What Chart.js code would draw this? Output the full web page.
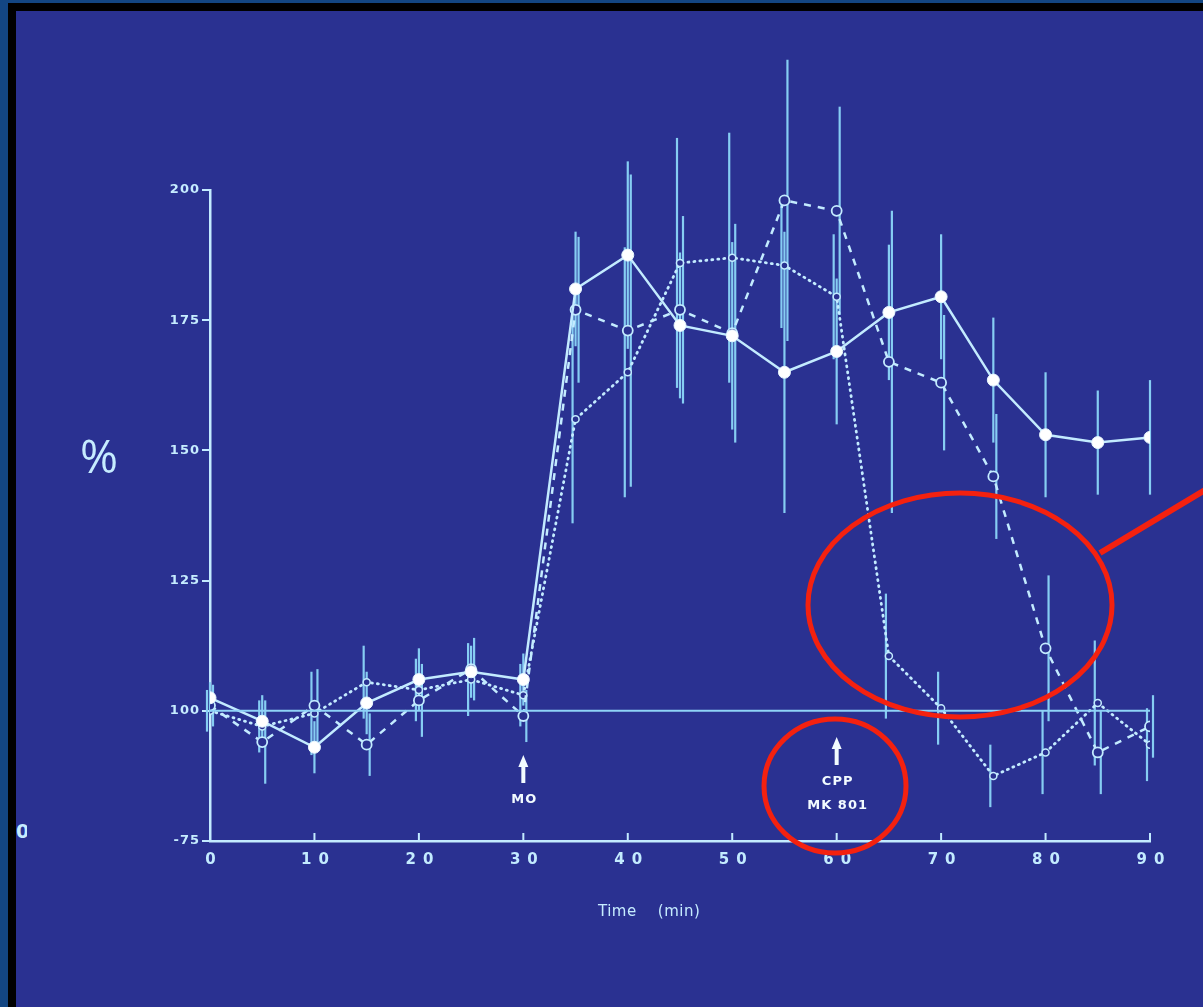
<!DOCTYPE html>
<html>
<head>
<meta charset="utf-8">
<script src="https://cdn.jsdelivr.net/npm/chart.js@4.4.1/dist/chart.umd.min.js"></script>
<style>
  html, body { margin: 0; padding: 0; width: 1203px; height: 1007px; overflow: hidden; background: #134683; }
  #frame { position: absolute; left: 8px; top: 3px; width: 1200px; height: 1010px; background: #000; }
  #panel { position: absolute; left: 16px; top: 11px; width: 1190px; height: 1000px; background: #2a3191; }
  #c { position: absolute; left: 0; top: 0; }
  .txt { position: absolute; color: #c6ecff; font-family: "DejaVu Sans", sans-serif; white-space: pre; }
  svg { position: absolute; left: 0; top: 0; }
</style>
</head>
<body>
<div id="frame"></div>
<div id="panel"></div>
<div class="txt" style="left:16px; top:820px; font-size:19px; font-weight:bold; width:11px; overflow:hidden;">0</div>
<canvas id="c" width="1203" height="1007"></canvas>
<div class="txt" style="left:80px; top:424px; font-size:46px; font-family:'Open Sans',sans-serif;">%</div>
<div class="txt" style="left:598px; top:902px; font-size:15px; font-family:'Liberation Sans Narrow','DejaVu Sans',sans-serif; letter-spacing:0.5px;">Time    (min)</div>
<svg width="1203" height="1007">
  <ellipse cx="960" cy="605" rx="152" ry="112" fill="none" stroke="#f4210f" stroke-width="5"/>
  <line x1="1100" y1="553" x2="1205" y2="490" stroke="#f4210f" stroke-width="6"/>
  <ellipse cx="835" cy="786" rx="71" ry="67" fill="none" stroke="#f4210f" stroke-width="5"/>
</svg>
<script>
// ---- data ----
const times = [0, 5, 10, 15, 20, 25, 30, 35, 40, 45, 50, 55, 60, 65, 70, 75, 80, 85, 90];
const solidMean  = [102.5, 98, 93, 101.5, 106, 107.5, 106, 181, 187.5, 174, 172, 165, 169, 176.5, 179.5, 163.5, 153, 151.5, 152.5];
const solidErr   = [3, 5, 5, 6, 6, 5, 5, 11, 18, 14, 18, 27, 14, 13, 12, 12, 12, 10, 11];
const dashedMean = [101, 94, 101, 93.5, 102, 108, 99, 177, 173, 177, 172.5, 198, 196, 167, 163, 145, 112, 92, 97];
const dashedErr  = [4, 8, 7, 6, 7, 6, 5, 14, 30, 18, 21, 27, 20, 29, 13, 12, 14, 8, 6];
const dottedMean = [100, 97, 99.5, 105.5, 104, 106, 103, 156, 165, 186, 187, 185.5, 179.5, 110.5, 100.5, 87.5, 92, 101.5, 93.5];
const dottedErr  = [4, 5, 8, 7, 6, 7, 6, 20, 24, 24, 24, 12, 12, 12, 7, 6, 8, 12, 7];
const baselineX = [0, 90];
const baselineY = [100, 100];
const xTicks = [0, 10, 20, 30, 40, 50, 60, 70, 80, 90];
const xTickLabels = ['0', '10', '20', '30', '40', '50', '60', '70', '80', '90'];
const yTicks = [75, 100, 125, 150, 175, 200];
const yTickLabels = ['-75', '100', '125', '150', '175', '200'];
const markers = [
  { t: 30, lines: ['MO'] },
  { t: 60, lines: ['CPP', 'MK 801'] }
];

const LINE = '#c3ebff';
const PANEL = '#2a3191';
const ERR = '#86cdf3';

function pts(ys) { return times.map((t, i) => ({ x: t, y: ys[i] })); }

const errorBars = {
  id: 'errorBars',
  beforeDatasetsDraw(chart) {
    const ctx = chart.ctx, xs = chart.scales.x, ys = chart.scales.y;
    ctx.save();
    chart.data.datasets.forEach(ds => {
      if (!ds.errs) return;
      ctx.strokeStyle = ERR;
      ctx.lineWidth = 2.2;
      ds.data.forEach((p, i) => {
        const px = xs.getPixelForValue(p.x) + (ds.errOffset || 0);
        ctx.beginPath();
        ctx.moveTo(px, ys.getPixelForValue(p.y + ds.errs[i]));
        ctx.lineTo(px, ys.getPixelForValue(p.y - ds.errs[i]));
        ctx.stroke();
      });
    });
    ctx.restore();
  }
};

const decor = {
  id: 'decor',
  beforeDraw(chart) {
    chart.ctx.letterSpacing = '1px';
  },
  afterDraw(chart) {
    const ctx = chart.ctx, xs = chart.scales.x, ys = chart.scales.y;
    const base = chart.chartArea.bottom;
    ctx.save();
    ctx.letterSpacing = '7px';
    ctx.strokeStyle = LINE;
    ctx.fillStyle = LINE;
    ctx.lineWidth = 2;
    ctx.font = 'bold 15px "DejaVu Sans", sans-serif';
    ctx.textAlign = 'center';
    ctx.textBaseline = 'middle';
    xTicks.forEach((v, i) => {
      const px = xs.getPixelForValue(v);
      ctx.beginPath();
      ctx.moveTo(px, base);
      ctx.lineTo(px, base - 8);
      ctx.stroke();
      ctx.fillText(xTickLabels[i], px + 4, base + 19);
    });
    // treatment markers
    ctx.letterSpacing = '1px';
    ctx.fillStyle = '#f2fbff';
    markers.forEach(m => {
      const px = xs.getPixelForValue(m.t);
      const top = m.lines.length > 1 ? base - 104 : base - 86;
      ctx.beginPath();
      ctx.moveTo(px, top);
      ctx.lineTo(px - 5, top + 12);
      ctx.lineTo(px - 2, top + 12);
      ctx.lineTo(px - 2, top + 28);
      ctx.lineTo(px + 2, top + 28);
      ctx.lineTo(px + 2, top + 12);
      ctx.lineTo(px + 5, top + 12);
      ctx.closePath();
      ctx.fill();
      ctx.font = 'bold 13px "DejaVu Sans", sans-serif';
      m.lines.forEach((s, j) => {
        ctx.fillText(s, px + 1, top + 45 + j * 24);
      });
    });
    ctx.restore();
  }
};

new Chart(document.getElementById('c'), {
  type: 'line',
  data: {
    datasets: [
      {
        label: 'baseline',
        data: baselineX.map((x, i) => ({ x: x, y: baselineY[i] })),
        borderColor: '#8fd3f7', borderWidth: 2, pointRadius: 0
      },
      {
        label: 'solid',
        data: pts(solidMean), errs: solidErr, errOffset: 0,
        borderColor: LINE, borderWidth: 2.5,
        pointRadius: 6, pointBackgroundColor: '#ffffff', pointBorderColor: '#e8f8ff', pointBorderWidth: 1
      },
      {
        label: 'dashed',
        data: pts(dashedMean), errs: dashedErr, errOffset: 3,
        borderColor: LINE, borderWidth: 2.5, borderDash: [7, 7],
        pointRadius: 5, pointBackgroundColor: PANEL, pointBorderColor: LINE, pointBorderWidth: 1.8
      },
      {
        label: 'dotted',
        data: pts(dottedMean), errs: dottedErr, errOffset: -3,
        borderColor: LINE, borderWidth: 2.8, borderDash: [1, 5], borderCapStyle: 'round',
        pointRadius: 3.5, pointBackgroundColor: PANEL, pointBorderColor: LINE, pointBorderWidth: 1.5
      }
    ]
  },
  options: {
    responsive: false,
    animation: false,
    events: [],
    layout: { padding: { left: 0, right: 53, top: 190, bottom: 0 } },
    plugins: { legend: { display: false }, tooltip: { enabled: false } },
    elements: { line: { tension: 0 } },
    scales: {
      x: {
        type: 'linear', min: 0, max: 90,
        afterFit: s => { s.height = 166; },
        ticks: { display: false },
        grid: { display: false },
        border: { display: true, color: LINE, width: 2.5 }
      },
      y: {
        type: 'linear', min: 75, max: 200,
        afterFit: s => { s.width = 210; },
        afterBuildTicks: s => { s.ticks = yTicks.map(v => ({ value: v })); },
        ticks: {
          color: '#c6ecff', padding: 2,
          font: { family: '"DejaVu Sans", sans-serif', size: 13, weight: 'bold' },
          callback: v => yTickLabels[yTicks.indexOf(v)]
        },
        grid: { display: true, drawOnChartArea: false, drawTicks: true, tickLength: 8, color: LINE, lineWidth: 2 },
        border: { display: true, color: LINE, width: 2.5 }
      }
    }
  },
  plugins: [errorBars, decor]
});
</script>
</body>
</html>
